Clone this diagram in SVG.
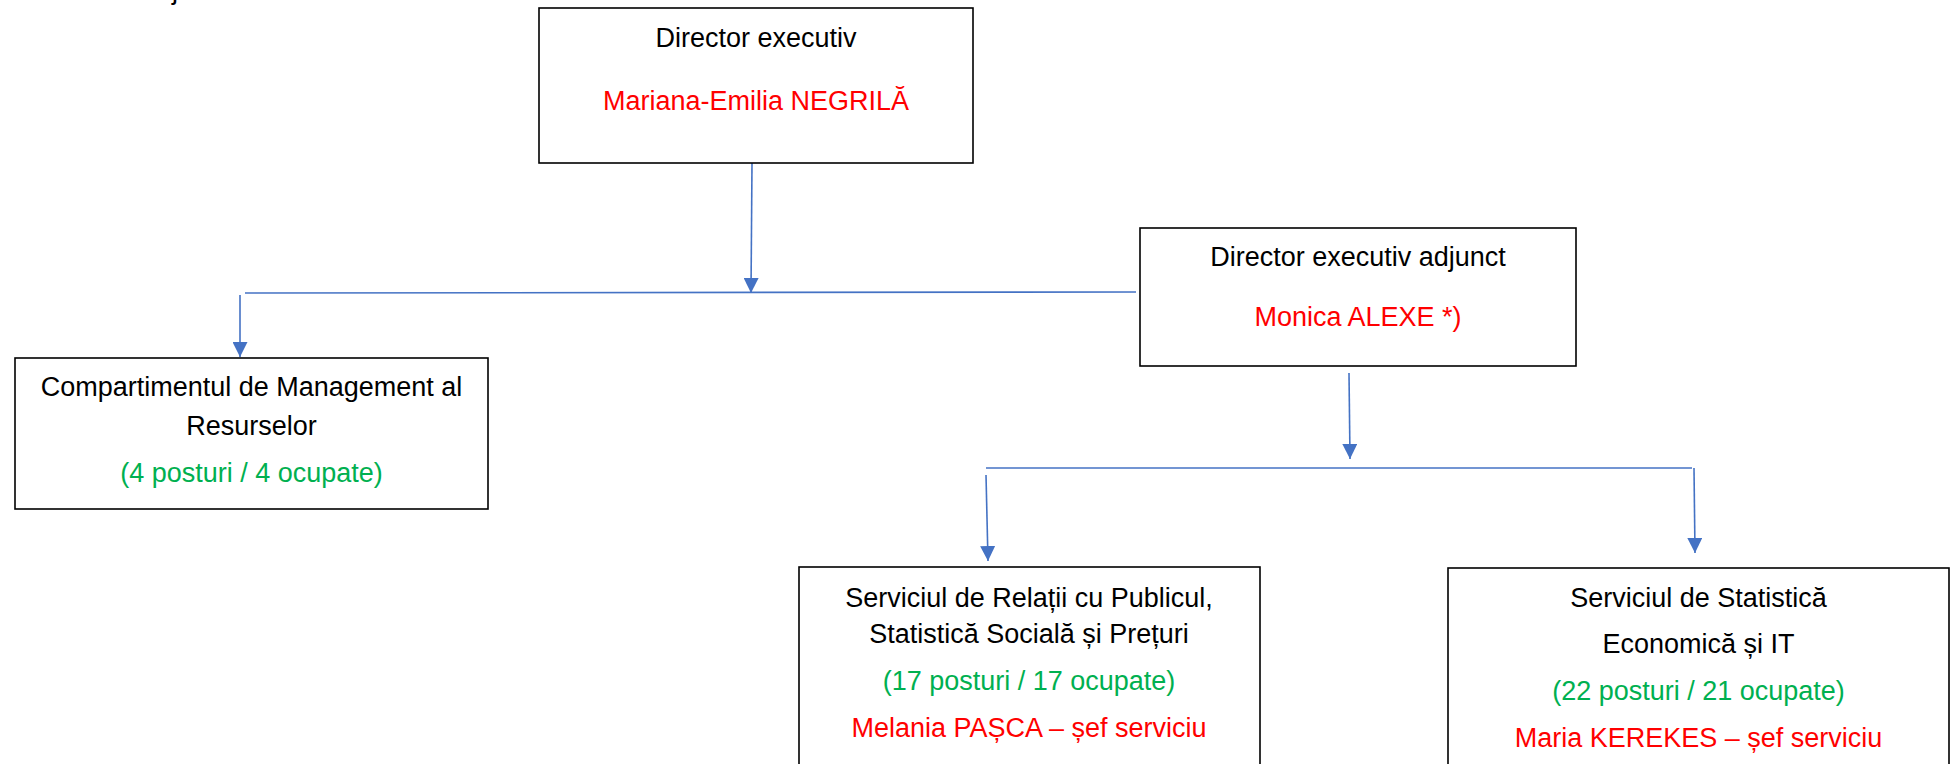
<svg xmlns="http://www.w3.org/2000/svg" width="1957" height="764" viewBox="0 0 1957 764">
<style>
.box{fill:#fff;stroke:#000;stroke-width:1.6}
text{font-family:"Liberation Sans",Arial,sans-serif;font-size:27px;text-anchor:middle;fill:#000}
.red{fill:#FF0000}
.green{fill:#00B050}
.con{stroke:#4472C4;stroke-width:1.6;fill:none}
</style>
<defs>
<marker id="arr" markerUnits="userSpaceOnUse" viewBox="0 0 15 15" markerWidth="15" markerHeight="15" refX="15" refY="7.5" orient="auto">
<path d="M0,0 L15,7.5 L0,15 z" fill="#4472C4"/>
</marker>
</defs>
<text x="172" y="-1.5" style="text-anchor:start">j</text>
<g id="connectors">
<line class="con" x1="752" y1="163" x2="751" y2="293" marker-end="url(#arr)"/>
<line class="con" x1="245" y1="293" x2="1136" y2="292"/>
<line class="con" x1="240" y1="295" x2="240" y2="357" marker-end="url(#arr)"/>
<line class="con" x1="1349" y1="373" x2="1350" y2="459" marker-end="url(#arr)"/>
<line class="con" x1="986" y1="468" x2="1692" y2="468"/>
<line class="con" x1="986" y1="475" x2="988" y2="561" marker-end="url(#arr)"/>
<line class="con" x1="1694" y1="468" x2="1695" y2="553" marker-end="url(#arr)"/>
</g>
<g id="director">
<rect class="box" x="539" y="8" width="434" height="155"/>
<text x="756" y="47">Director executiv</text>
<text class="red" x="756" y="110">Mariana-Emilia NEGRILĂ</text>
</g>
<g id="adjunct">
<rect class="box" x="1140" y="228" width="436" height="138"/>
<text x="1358" y="266">Director executiv adjunct</text>
<text class="red" x="1358" y="326">Monica ALEXE *)</text>
</g>
<g id="compartiment">
<rect class="box" x="15" y="358" width="473" height="151"/>
<text x="251.5" y="396">Compartimentul de Management al</text>
<text x="251.5" y="435">Resurselor</text>
<text class="green" x="251.5" y="482">(4 posturi / 4 ocupate)</text>
</g>
<g id="serviciu-relatii">
<rect class="box" x="799" y="567" width="461" height="220"/>
<text x="1029" y="607">Serviciul de Relații cu Publicul,</text>
<text x="1029" y="643">Statistică Socială și Prețuri</text>
<text class="green" x="1029" y="690">(17 posturi / 17 ocupate)</text>
<text class="red" x="1029" y="737">Melania PAȘCA – șef serviciu</text>
</g>
<g id="serviciu-statistica">
<rect class="box" x="1448" y="568" width="501" height="220"/>
<text x="1698.5" y="607">Serviciul de Statistică</text>
<text x="1698.5" y="653">Economică și IT</text>
<text class="green" x="1698.5" y="700">(22 posturi / 21 ocupate)</text>
<text class="red" x="1698.5" y="747">Maria KEREKES – șef serviciu</text>
</g>
</svg>
